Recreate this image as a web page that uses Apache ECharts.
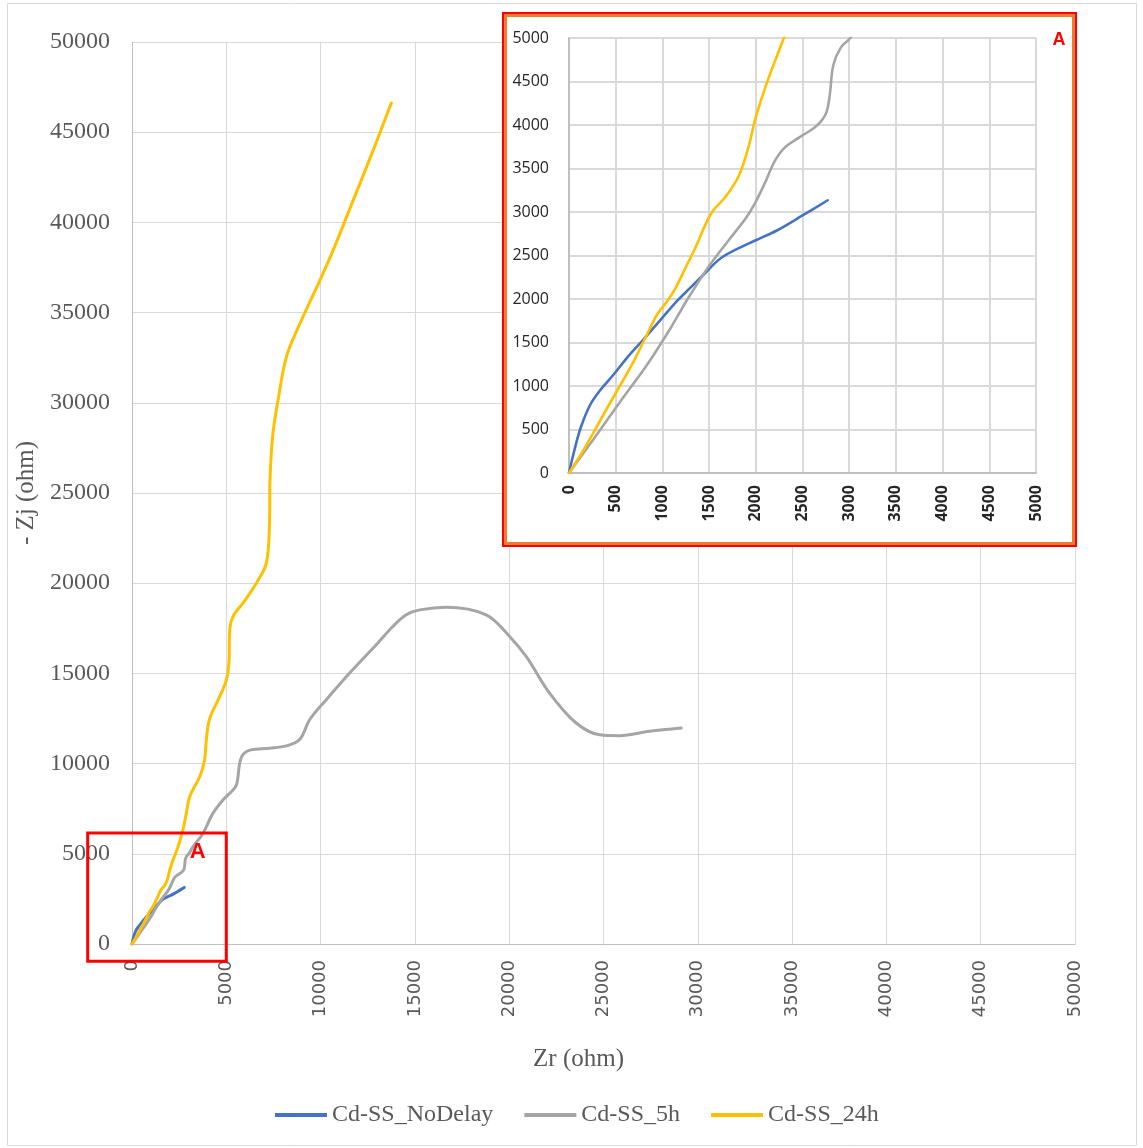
<!DOCTYPE html>
<html>
<head>
<meta charset="utf-8">
<title>Nyquist plot</title>
<script src="https://cdn.jsdelivr.net/npm/echarts@6/dist/echarts.min.js"></script>
<style>
  html, body { margin: 0; padding: 0; background: #ffffff; }
  #chart { width: 1143px; height: 1148px; }
</style>
</head>
<body>
<div id="chart"></div>
<script>
// Impedance data (ohm): real part Zr and negative imaginary part -Zj
const noDelayZr = [0, 55, 125, 230, 340, 480, 625, 785, 980, 1160, 1300, 1450, 1560, 1640, 1790, 2000, 2230, 2500, 2770];
const noDelayZj = [0, 250, 520, 790, 960, 1135, 1330, 1520, 1760, 1980, 2130, 2290, 2410, 2480, 2570, 2675, 2790, 2960, 3135];

const h5Zr = [0, 270, 555, 840, 1090, 1270, 1500, 1720, 1900, 2000, 2100, 2200, 2310, 2470, 2650, 2750, 2790, 2830, 2910, 3010,
  3230, 3760, 4290, 4820, 5180, 5530, 5710, 5880, 6300, 7300, 8180, 8890, 9420, 10300, 11540, 12950, 13830, 14540, 15250, 16660,
  18780, 20020, 20900, 22140, 23550, 24790, 25850, 27440, 29120];
const h5Zj = [0, 400, 830, 1250, 1670, 2000, 2380, 2690, 2940, 3120, 3340, 3580, 3740, 3860, 3990, 4130, 4330, 4690, 4890, 5000,
  5390, 6130, 7240, 7980, 8350, 8800, 10010, 10500, 10760, 10850, 10980, 11330, 12430, 13540, 15020, 16590, 17600, 18250, 18520, 18670,
  18250, 17050, 15940, 13910, 12250, 11600, 11550, 11790, 11970];

const h24Zr = [0, 125, 270, 410, 555, 695, 820, 945, 1055, 1145, 1250, 1340, 1520, 1680, 1820, 1920, 2000, 2120, 2300, 2440,
  2700, 2880, 3060, 3590, 3850, 3940, 4120, 4650, 5000, 5140, 5180, 5350, 5880, 6590, 7120, 7290, 7320, 7470, 7740, 8180,
  8890, 9950, 10650, 11710, 12770, 13750];
const h24Zj = [0, 210, 480, 750, 1020, 1290, 1560, 1825, 1980, 2135, 2365, 2560, 2980, 3180, 3420, 3740, 4090, 4490, 5000, 5390,
  6320, 7240, 8170, 9270, 10200, 11310, 12500, 13710, 14630, 15560, 17410, 18150, 18890, 20000, 21100, 23300, 25800, 28280, 30120, 32520,
  34360, 36760, 38420, 41180, 43950, 46620];

const seriesNames = ['Cd-SS_NoDelay', 'Cd-SS_5h', 'Cd-SS_24h'];
const seriesColors = ['#4472C4', '#A5A5A5', '#FFC000'];

// Axis ticks
const mainTicks = [0, 5000, 10000, 15000, 20000, 25000, 30000, 35000, 40000, 45000, 50000];
const insetTicks = [0, 500, 1000, 1500, 2000, 2500, 3000, 3500, 4000, 4500, 5000];

// Region of the main plot that the inset "A" enlarges (data units)
const zoomBoxZr = [-2350, 5000];
const zoomBoxZj = [-950, 6150];

const pairs = (xs, ys) => xs.map((x, i) => [x, ys[i]]);
const seriesData = [pairs(noDelayZr, noDelayZj), pairs(h5Zr, h5Zj), pairs(h24Zr, h24Zj)];

const serif = '"Liberation Serif", "Times New Roman", serif';
const gridColor = '#d9d9d9';
const axisColor = '#bfbfbf';
const plain = (v) => String(v);

const chart = echarts.init(document.getElementById('chart'), null, { renderer: 'canvas' });

function makeSeries(gridIdx, width, z) {
  return seriesNames.map((name, i) => ({
    name: name,
    type: 'line',
    xAxisIndex: gridIdx,
    yAxisIndex: gridIdx,
    data: seriesData[i],
    showSymbol: false,
    symbol: 'none',
    smooth: 0.35,
    clip: true,
    z: z,
    color: seriesColors[i],
    lineStyle: { color: seriesColors[i], width: width, cap: 'round', join: 'round' }
  }));
}

const option = {
  animation: false,
  backgroundColor: '#ffffff',
  grid: [
    { left: 132, right: 68, top: 42, bottom: 204, containLabel: false },
    { left: 569, right: 107, top: 38, bottom: 675, containLabel: false, z: 5 }
  ],
  xAxis: [
    {
      type: 'value', gridIndex: 0, min: mainTicks[0], max: mainTicks[mainTicks.length - 1],
      interval: mainTicks[1] - mainTicks[0], z: 0,
      name: 'Zr (ohm)', nameLocation: 'middle', nameGap: 103,
      nameTextStyle: { fontFamily: serif, fontSize: 25, color: '#595959', padding: [0, 50, 0, 0] },
      axisLine: { show: true, onZero: false, lineStyle: { color: axisColor, width: 1 } },
      axisTick: { show: false },
      axisLabel: { rotate: 90, margin: 16, formatter: plain, fontFamily: '"DejaVu Sans", sans-serif', fontSize: 18, color: '#595959' },
      splitLine: { show: true, lineStyle: { color: gridColor, width: 1 } }
    },
    {
      type: 'value', gridIndex: 1, min: insetTicks[0], max: insetTicks[insetTicks.length - 1],
      interval: insetTicks[1] - insetTicks[0], z: 5,
      axisLine: { show: true, onZero: false, lineStyle: { color: axisColor, width: 2 } },
      axisTick: { show: false },
      axisLabel: { rotate: 90, margin: 12, formatter: plain, fontFamily: '"Open Sans", sans-serif', fontSize: 16, fontWeight: 'bold', color: '#262626' },
      splitLine: { show: true, lineStyle: { color: gridColor, width: 2 } }
    }
  ],
  yAxis: [
    {
      type: 'value', gridIndex: 0, min: mainTicks[0], max: mainTicks[mainTicks.length - 1],
      interval: mainTicks[1] - mainTicks[0], z: 0,
      name: '- Zj (ohm)', nameLocation: 'middle', nameGap: 70,
      nameTextStyle: { fontFamily: serif, fontSize: 25, color: '#595959' },
      axisLine: { show: true, onZero: false, lineStyle: { color: axisColor, width: 1 } },
      axisTick: { show: false },
      axisLabel: { margin: 22, formatter: plain, fontFamily: serif, fontSize: 24, color: '#595959' },
      splitLine: { show: true, lineStyle: { color: gridColor, width: 1 } }
    },
    {
      type: 'value', gridIndex: 1, min: insetTicks[0], max: insetTicks[insetTicks.length - 1],
      interval: insetTicks[1] - insetTicks[0], z: 5,
      axisLine: { show: true, onZero: false, lineStyle: { color: axisColor, width: 2 } },
      axisTick: { show: false },
      axisLabel: { margin: 20, formatter: plain, fontFamily: '"Open Sans", sans-serif', fontSize: 16, color: '#262626' },
      splitLine: { show: true, lineStyle: { color: gridColor, width: 2 } }
    }
  ],
  legend: {
    data: seriesNames,
    left: 270, top: 1098,
    icon: 'rect', itemWidth: 52, itemHeight: 4, itemGap: 31,
    textStyle: { fontFamily: serif, fontSize: 24, color: '#595959' }
  },
  series: makeSeries(0, 3, 2).concat(makeSeries(1, 2.6, 8))
};

chart.setOption(option);

// Frame, inset panel and the "A" markers
const tl = chart.convertToPixel({ gridIndex: 0 }, [zoomBoxZr[0], zoomBoxZj[1]]);
const br = chart.convertToPixel({ gridIndex: 0 }, [zoomBoxZr[1], zoomBoxZj[0]]);

chart.setOption({
  graphic: [
    {
      type: 'rect', z: -10, silent: true,
      shape: { x: 7.5, y: 3.5, width: 1129, height: 1142 },
      style: { fill: 'none', stroke: '#d9d9d9', lineWidth: 1 }
    },
    {
      type: 'rect', z: 1, silent: true,
      shape: { x: 503, y: 13, width: 573, height: 533 },
      style: { fill: '#ffffff', stroke: '#ff0000', lineWidth: 2 }
    },
    {
      type: 'rect', z: 1, silent: true,
      shape: { x: 505.5, y: 15.5, width: 568, height: 528 },
      style: { fill: 'none', stroke: '#ED7D31', lineWidth: 3 }
    },
    {
      type: 'text', z: 9, silent: true,
      x: 1059, y: 40,
      style: { text: 'A', fill: '#ff0000', font: 'bold 18px "Liberation Sans", Arial, sans-serif', align: 'center', verticalAlign: 'middle' }
    },
    {
      type: 'rect', z: 9, silent: true,
      shape: { x: tl[0], y: tl[1], width: br[0] - tl[0], height: br[1] - tl[1] },
      style: { fill: 'none', stroke: '#ff0000', lineWidth: 3 }
    },
    {
      type: 'text', z: 9, silent: true,
      x: tl[0] + 110, y: tl[1] + 19,
      style: { text: 'A', fill: '#ff0000', font: 'bold 22px "Liberation Sans", Arial, sans-serif', align: 'center', verticalAlign: 'middle' }
    }
  ]
});
</script>
</body>
</html>
